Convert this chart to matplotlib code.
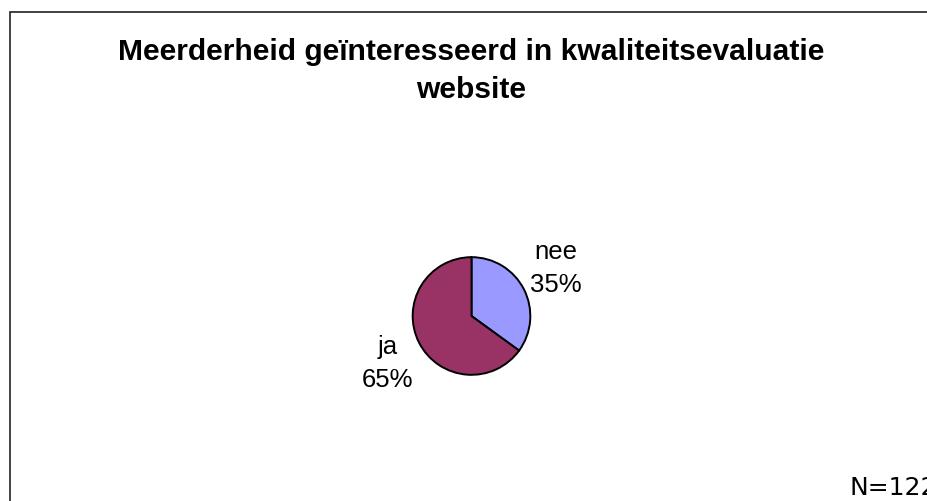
import matplotlib
matplotlib.use("Agg")
import matplotlib.pyplot as plt
from matplotlib.patches import Rectangle

# Answers to the question and their share in percent
categories = ["nee", "ja"]
shares = [35, 65]
colors = ["#9999FF", "#993366"]
title = "Meerderheid geïnteresseerd in kwaliteitsevaluatie\nwebsite"
note = "N=122"

W, H = 927, 501
fig = plt.figure(figsize=(W / 100, H / 100), dpi=100)
fig.patch.set_facecolor("white")

# frame around the chart area (runs past the right and bottom edge)
fig.patches.append(Rectangle((10 / W, -0.2), 2, 1 - 12 / H + 0.2,
                             transform=fig.transFigure, fill=False,
                             edgecolor="#222222", linewidth=1.2))

# square axes so the pie sits at a fixed pixel size
cx, cy, r = 471.5, 316, 60
ax = fig.add_axes([(cx - r) / W, (H - cy - r) / H, 2 * r / W, 2 * r / H])
labels = [f"{c}\n{s}%" for c, s in zip(categories, shares)]
wedges, texts = ax.pie(shares, labels=labels, colors=colors, startangle=90,
                       counterclock=False, labeldistance=1.6, radius=1,
                       wedgeprops=dict(edgecolor="black", linewidth=1.4),
                       textprops=dict(fontsize=18.5, family="Liberation Sans"))
for t in texts:
    t.set_ha("center")
    t.set_va("center")
    t.set_linespacing(1.45)
# nudge the labels a little further out vertically
texts[0].set_y(texts[0].get_position()[1] + 0.08)
texts[1].set_y(texts[1].get_position()[1] - 0.08)
ax.set_xlim(-1.02, 1.02)
ax.set_ylim(-1.02, 1.02)
ax.set_aspect("equal")
ax.axis("off")

fig.text(471.5 / W, 1 - 98 / H, title, ha="center", va="baseline",
         fontsize=21.6, fontweight="bold", family="Liberation Sans",
         linespacing=1.46)
fig.text(850 / W, 1 - 495 / H, note, ha="left", va="baseline",
         fontsize=18, family="DejaVu Sans")

fig.savefig("out.png", dpi=100)
